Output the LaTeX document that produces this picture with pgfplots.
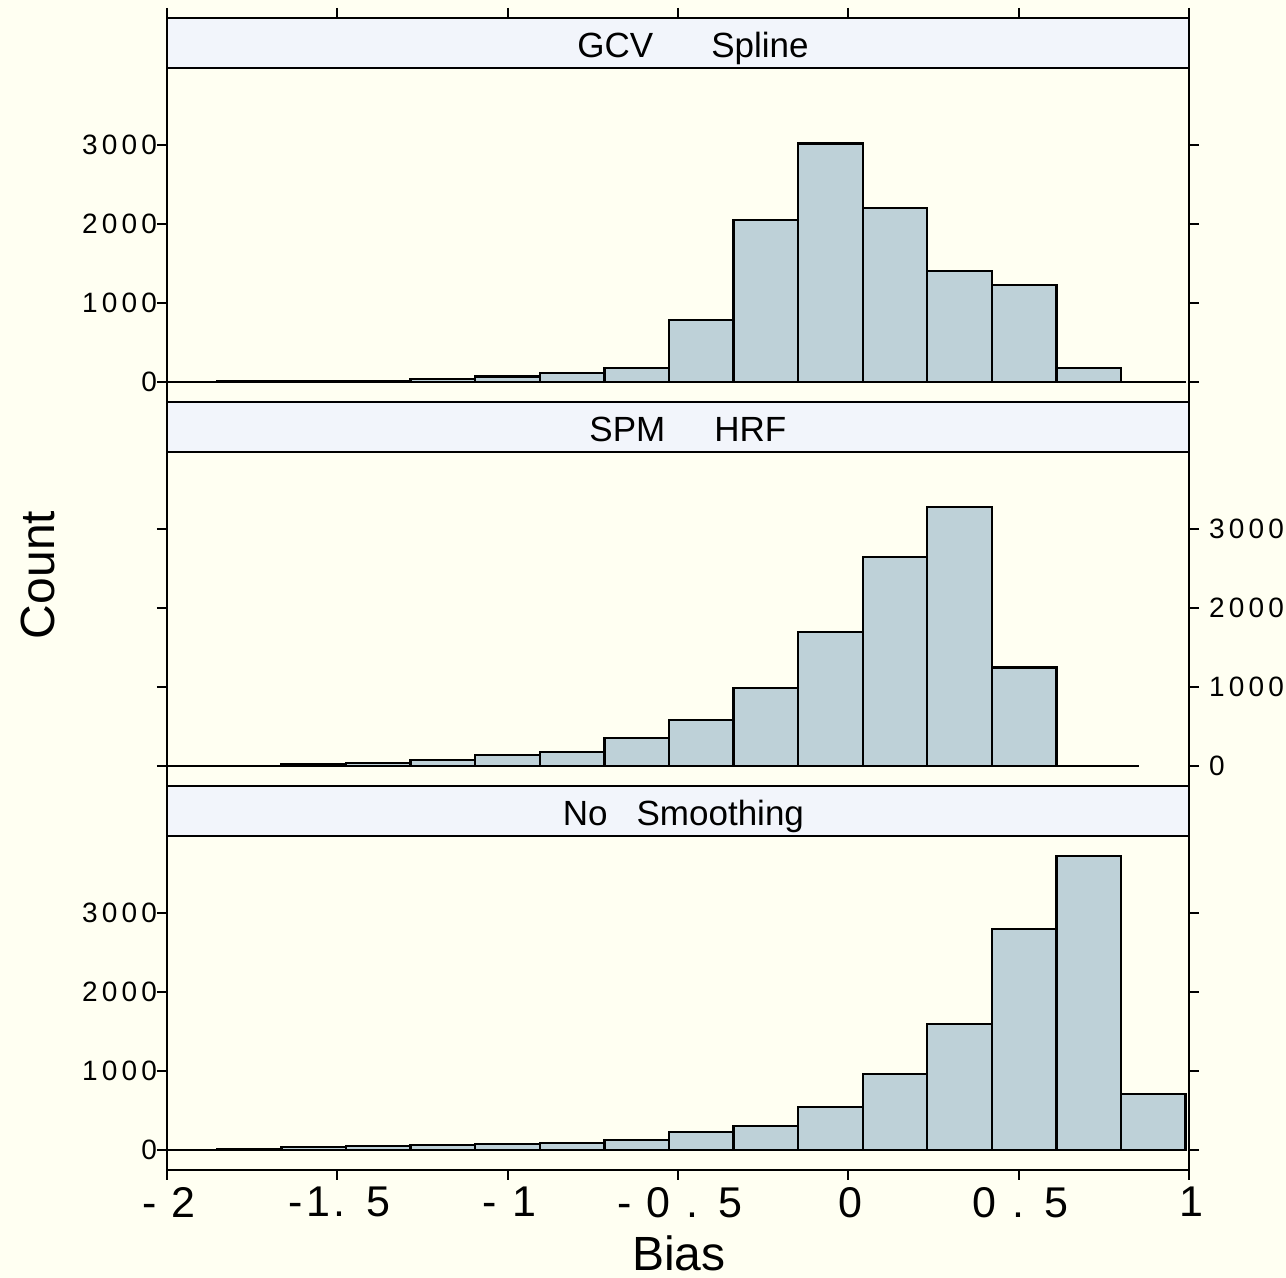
\documentclass[border=0pt]{standalone}
\usepackage{fontspec}
\setmainfont{Liberation Sans}
\newfontfamily\tickfont{Liberation Sans}[LetterSpace=15]
\newfontfamily\xtickfont{Liberation Sans}[LetterSpace=8]
\usepackage{pgfplots}
\pgfplotsset{compat=1.18}
\definecolor{bg}{RGB}{255,255,242}
\definecolor{stripcol}{RGB}{242,245,251}
\definecolor{barfill}{RGB}{190,209,216}
\pgfplotsset{
  panel/.style={
    scale only axis, width=511pt, height=192pt,
    xmin=-2, xmax=1, ymin=-253, ymax=4608,
    axis on top,
    axis line style={line width=1pt, black},
    every tick/.style={line width=1pt, black},
    tick align=outside, major tick length=5pt,
    ytick={0,1000,2000,3000},
    yticklabels={0,1000,2000,3000},
    ytick pos=both,
    yticklabel style={font=\fontsize{14}{14}\tickfont},
    xtick={-2,-1.5,-1,-0.5,0,0.5,1},
    clip=true,
  },
  bars/.style={ybar interval, fill=barfill, draw=black, line width=1.1pt},
  zline/.style={black, line width=1.1pt, forget plot},
}
\newcommand{\strip}{\draw[fill=stripcol, line width=1pt] (axis cs:-2,3975) rectangle (axis cs:1,4608);}
\begin{document}
\begin{tikzpicture}
\useasboundingbox (-83.5pt,-54pt) rectangle (559.5pt,585pt);
\fill[bg] (-83.5pt,-54pt) rectangle (559.5pt,585pt);

% bottom panel: No Smoothing
\begin{axis}[panel, at={(0,0)}, anchor=south west,
  yticklabel pos=left, xtick pos=lower,
  yticklabel style={xshift=3.5pt},
  xticklabels={- 2,-1. 5,- 1,- 0 . 5,0,0 . 5,1},
  xticklabel style={font=\fontsize{21.5}{21.5}\xtickfont, xshift=1pt}]
\strip
\addplot[zline] coordinates {(-2,0) (0.990,0)};
\addplot[bars] coordinates {(-2.043,0) (-1.853,17) (-1.664,33) (-1.474,46) (-1.285,59) (-1.095,72) (-0.906,93) (-0.716,122) (-0.526,230) (-0.337,300) (-0.147,545) (0.042,960) (0.232,1595) (0.421,2795) (0.611,3720) (0.800,709) (0.990,0)};
\node[anchor=base, font=\fontsize{17.5}{17.5}\selectfont] at (axis cs:-0.484,4110) {No\hspace{14.5pt}Smoothing};
\end{axis}

% middle panel: SPM HRF
\begin{axis}[panel, at={(0,192pt)}, anchor=south west,
  yticklabel pos=right, xtick=\empty,
  yticklabel style={xshift=1.5pt}]
\strip
\addplot[zline] coordinates {(-2,0) (0.853,0)};
\addplot[bars] coordinates {(-2.043,0) (-1.853,3) (-1.664,25) (-1.474,40) (-1.285,80) (-1.095,135) (-0.906,182) (-0.716,358) (-0.526,587) (-0.337,987) (-0.147,1696) (0.042,2642) (0.232,3278) (0.421,1246) (0.611,0) (0.800,0)};
\node[anchor=base, font=\fontsize{17.5}{17.5}\selectfont] at (axis cs:-0.471,4110) {SPM\hspace{24.5pt}HRF};
\end{axis}

% top panel: GCV Spline
\begin{axis}[panel, at={(0,384pt)}, anchor=south west,
  yticklabel pos=left, xtick pos=upper, xticklabels={},
  yticklabel style={xshift=3.5pt}]
\strip
\addplot[zline] coordinates {(-2,0) (0.990,0)};
\addplot[bars] coordinates {(-2.043,0) (-1.853,10) (-1.664,12) (-1.474,10) (-1.285,40) (-1.095,70) (-0.906,115) (-0.716,175) (-0.526,781) (-0.337,2047) (-0.147,3018) (0.042,2199) (0.232,1410) (0.421,1224) (0.611,182) (0.800,0) (0.990,0)};
\node[anchor=base, font=\fontsize{17.5}{17.5}\selectfont] at (axis cs:-0.456,4110) {GCV\hspace{29pt}Spline};
\end{axis}

\node[font=\fontsize{24}{24}\selectfont] at (256pt,-41.5pt) {Bias};
\node[rotate=90, font=\fontsize{24}{24}\selectfont] at (-64.5pt,297.5pt) {Count};
\end{tikzpicture}
\end{document}
